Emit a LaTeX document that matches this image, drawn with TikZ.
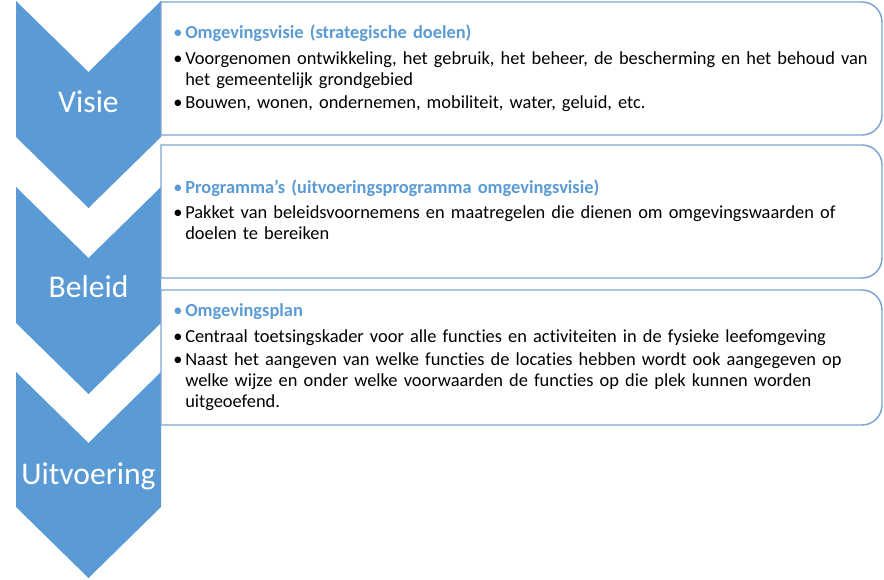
\documentclass[tikz,border=0pt]{standalone}
\usepackage{fontspec}
\setmainfont{Carlito}[Ligatures=NoCommon]
\definecolor{chevblue}{RGB}{91,155,213}
\definecolor{boxblue}{RGB}{125,163,208}
\newcommand\bul{\makebox[9pt][l]{\textbullet}}
\newcommand\ind{\hspace*{9pt}}
\newcommand\kop[1]{{\color{chevblue}\bul\textbf{#1}}}
\begin{document}
\begin{tikzpicture}[x=0.75pt, y=-0.75pt,
    chev/.style={fill=chevblue, draw=none},
    panel/.style={draw=boxblue, line width=1.1pt, fill=white},
    chevtext/.style={anchor=base, inner sep=0, text=white, font=\fontsize{23.7}{28}\selectfont},
    txt/.style={anchor=base west, inner sep=0, align=left, text width=600pt, font=\fontsize{13.8}{15.75}\selectfont}]
  \useasboundingbox (0,0) rectangle (884,580);
  % chevrons
  \draw[chev] (16,1) -- (88.5,72) -- (161,1) -- (161,137) -- (88.5,208) -- (16,137) -- cycle;
  \draw[chev] (16,187) -- (88.5,258) -- (161,187) -- (161,323) -- (88.5,394) -- (16,323) -- cycle;
  \draw[chev] (16,372) -- (88.5,443) -- (161,372) -- (161,507) -- (88.5,578) -- (16,507) -- cycle;
  \node[chevtext] (visie) at (88.5,113) {Visie};
  \node[chevtext] (beleid) at (88.5,298) {Beleid};
  \node[chevtext] (uitvoering) at (88.5,484) {Uitvoering};
  % boxes
  \draw[panel] (161,2) -- (862,2) arc[start angle=-90, end angle=0, radius=20] -- (882,115)
    arc[start angle=0, end angle=90, radius=20] -- (161,135) -- cycle;
  \draw[panel] (161,145) -- (862,145) arc[start angle=-90, end angle=0, radius=20] -- (882,258)
    arc[start angle=0, end angle=90, radius=20] -- (161,278) -- cycle;
  \draw[panel] (161,290) -- (862,290) arc[start angle=-90, end angle=0, radius=20] -- (882,405)
    arc[start angle=0, end angle=90, radius=20] -- (161,425) -- cycle;
  % texts
  \node[txt] (tvisie) at (173,39) {\kop{Omgevingsvisie (strategische doelen)}\\[3.5pt]
    \bul Voorgenomen ontwikkeling, het gebruik, het beheer, de bescherming en het behoud van\\
    \ind het gemeentelijk grondgebied\\[1.5pt]
    \bul Bouwen, wonen, ondernemen, mobiliteit, water, geluid, etc.};
  \node[txt] (tbeleid) at (173,194) {\kop{Programma’s (uitvoeringsprogramma omgevingsvisie)}\\[2.5pt]
    \bul Pakket van beleidsvoornemens en maatregelen die dienen om omgevingswaarden of\\
    \ind doelen te bereiken};
  \node[txt] (tplan) at (173,317) {\kop{Omgevingsplan}\\[3.5pt]
    \bul Centraal toetsingskader voor alle functies en activiteiten in de fysieke leefomgeving\\[1.5pt]
    \bul Naast het aangeven van welke functies de locaties hebben wordt ook aangegeven op\\
    \ind welke wijze en onder welke voorwaarden de functies op die plek kunnen worden\\
    \ind uitgeoefend.};
\end{tikzpicture}
\end{document}
